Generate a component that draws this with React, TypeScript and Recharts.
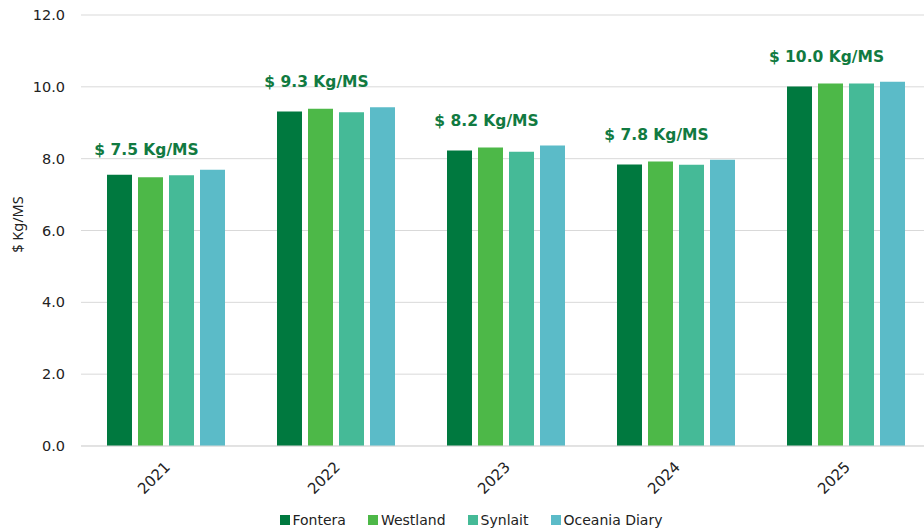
import { BarChart, Bar, XAxis, YAxis, CartesianGrid, Legend, LabelList, Label } from 'recharts'

const years = ['2021', '2022', '2023', '2024', '2025']
const fontera = [7.55, 9.31, 8.23, 7.84, 10.01]
const westland = [7.48, 9.39, 8.31, 7.92, 10.09]
const synlait = [7.54, 9.29, 8.19, 7.83, 10.09]
const oceania = [7.69, 9.43, 8.37, 7.97, 10.14]
const priceLabels = ['$ 7.5 Kg/MS', '$ 9.3 Kg/MS', '$ 8.2 Kg/MS', '$ 7.8 Kg/MS', '$ 10.0 Kg/MS']
const yTicks = [0, 2, 4, 6, 8, 10, 12]

const series = [
  { key: 'fontera', name: 'Fontera', color: '#00793F' },
  { key: 'westland', name: 'Westland', color: '#4DB848' },
  { key: 'synlait', name: 'Synlait', color: '#45BA97' },
  { key: 'oceania', name: 'Oceania Diary', color: '#5BBBC8' },
]

const data = years.map((year, i) => ({
  year,
  fontera: fontera[i],
  westland: westland[i],
  synlait: synlait[i],
  oceania: oceania[i],
  label: priceLabels[i],
}))

const font = 'DejaVu Sans, Verdana, sans-serif'

function YearTick({ x, y, payload }: any) {
  const ax = x + 5
  const ay = y + 14
  return (
    <text
      x={ax}
      y={ay}
      textAnchor="end"
      fontSize={15}
      fontFamily={font}
      fill="#222"
      transform={`rotate(-45, ${ax}, ${ay})`}
    >
      {payload.value}
    </text>
  )
}

function PriceLabel({ x, y, width, value }: any) {
  return (
    <text
      x={x + width / 2 - 4}
      y={y - 22}
      textAnchor="middle"
      fontSize={15.5}
      fontWeight="bold"
      fontFamily={font}
      fill="#117A41"
    >
      {value}
    </text>
  )
}

function LegendContent() {
  return (
    <div
      style={{
        height: 24,
        display: 'flex',
        justifyContent: 'center',
        alignItems: 'center',
        gap: 22,
        paddingLeft: 11,
        fontFamily: font,
        fontSize: 14,
        color: '#222',
      }}
    >
      {series.map((s) => (
        <div key={s.key} style={{ display: 'flex', alignItems: 'center', gap: 3 }}>
          <span style={{ width: 10, height: 10, background: s.color, display: 'inline-block' }} />
          <span>{s.name}</span>
        </div>
      ))}
    </div>
  )
}

export default function App() {
  return (
    <div style={{ position: 'absolute', left: 0, top: 0, width: 924, height: 532, overflow: 'hidden', background: '#fff' }}>
      <BarChart
        width={931}
        height={532}
        data={data}
        margin={{ top: 15, right: 0, left: 0, bottom: 0 }}
        barCategoryGap={26}
        barGap={6}
      >
        <CartesianGrid vertical={false} stroke="#d9d9d9" />
        <XAxis
          dataKey="year"
          height={62}
          axisLine={{ stroke: '#d9d9d9' }}
          tickLine={false}
          tick={<YearTick />}
          interval={0}
        />
        <YAxis
          width={81}
          domain={[0, 12]}
          ticks={yTicks}
          tickFormatter={(v: number) => v.toFixed(1)}
          axisLine={false}
          tickLine={false}
          tickMargin={10}
          tick={{ fontSize: 14.5, fill: '#222', fontFamily: font }}
        >
          <Label
            value="$ Kg/MS"
            angle={-90}
            position="insideLeft"
            offset={18}
            dy={-6}
            style={{ textAnchor: 'middle', fontSize: 14.5, fontFamily: 'Noto Sans, sans-serif', fill: '#222' }}
          />
        </YAxis>
        <Legend verticalAlign="bottom" content={<LegendContent />} />
        {series.map((s) => (
          <Bar key={s.key} dataKey={s.key} name={s.name} fill={s.color} isAnimationActive={false}>
            {s.key === 'westland' && <LabelList dataKey="label" content={<PriceLabel />} />}
          </Bar>
        ))}
      </BarChart>
    </div>
  )
}
